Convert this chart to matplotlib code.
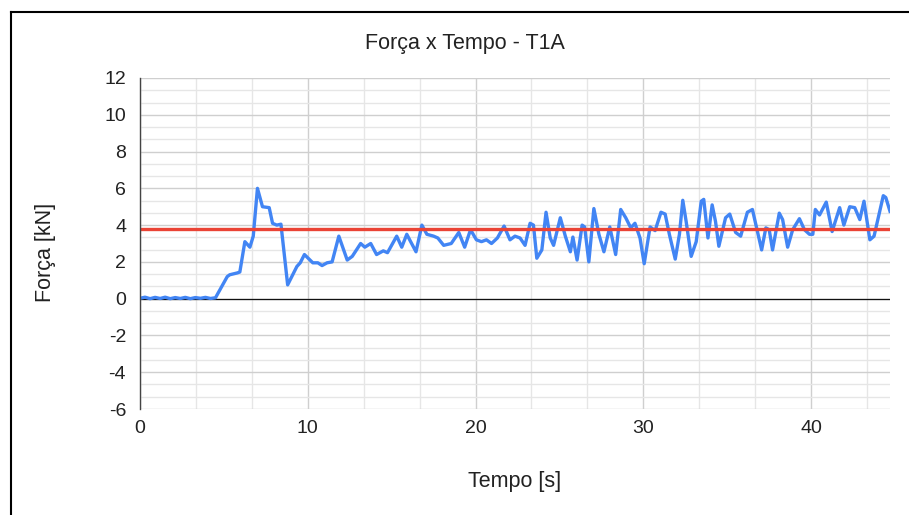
import numpy as np
import matplotlib
matplotlib.use("Agg")
import matplotlib.pyplot as plt
from matplotlib.lines import Line2D
from matplotlib.ticker import MultipleLocator

plt.rcParams["font.family"] = ["Liberation Sans", "DejaVu Sans"]
plt.rcParams["axes.unicode_minus"] = False

# DATA
tempo = [0.0, 0.3, 0.6, 0.9, 1.2, 1.5, 1.8, 2.1, 2.4, 2.7, 3.0, 3.3, 3.6, 3.9, 4.2, 4.5,
         5.2, 5.35, 5.8, 5.95, 6.25, 6.55, 6.75, 7.0, 7.3, 7.7, 7.9, 8.15, 8.4, 8.8,
         9.35, 9.55, 9.8, 10.3, 10.6, 10.85, 11.15, 11.45, 11.85, 12.35, 12.65, 13.15,
         13.4, 13.75, 14.1, 14.5, 14.75, 15.3, 15.6, 15.9, 16.45, 16.8, 17.1, 17.5,
         17.75, 18.1, 18.55, 19.0, 19.35, 19.7, 20.05, 20.35, 20.65, 20.95, 21.3, 21.7,
         22.05, 22.35, 22.65, 22.95, 23.25, 23.45, 23.65, 23.95, 24.2, 24.45, 24.65,
         25.05, 25.35, 25.65, 25.8, 26.05, 26.35, 26.5, 26.75, 27.05, 27.35, 27.65,
         28.0, 28.35, 28.65, 28.95, 29.25, 29.5, 29.8, 30.05, 30.4, 30.7, 31.05, 31.3,
         31.55, 31.9, 32.15, 32.35, 32.55, 32.85, 33.15, 33.45, 33.6, 33.85, 34.1, 34.3,
         34.5, 34.9, 35.15, 35.5, 35.8, 36.2, 36.5, 37.05, 37.3, 37.5, 37.7, 38.1, 38.3,
         38.6, 38.9, 39.3, 39.6, 39.9, 40.1, 40.25, 40.5, 40.9, 41.25, 41.7, 41.95, 42.3,
         42.6, 42.9, 43.15, 43.5, 43.75, 44.3, 44.45, 44.7]
forca = [0.02, 0.08, 0.0, 0.07, 0.01, 0.08, 0.0, 0.06, 0.01, 0.07, 0.0, 0.06, 0.02, 0.07, 0.01, 0.05,
         1.2, 1.3, 1.4, 1.45, 3.1, 2.8, 3.4, 6.0, 5.0, 4.95, 4.1, 4.0, 4.05, 0.75,
         1.75, 1.95, 2.4, 1.95, 1.95, 1.8, 1.95, 2.0, 3.4, 2.1, 2.3, 3.0,
         2.8, 3.0, 2.4, 2.6, 2.5, 3.4, 2.8, 3.5, 2.55, 4.0, 3.5, 3.4,
         3.3, 2.9, 3.0, 3.6, 2.8, 3.75, 3.2, 3.1, 3.2, 3.0, 3.3, 3.95,
         3.2, 3.4, 3.3, 2.9, 4.1, 4.0, 2.2, 2.65, 4.7, 3.3, 2.9,
         4.4, 3.4, 2.55, 3.35, 2.1, 4.0, 3.9, 2.0, 4.9, 3.5, 2.55,
         3.9, 2.4, 4.85, 4.4, 3.85, 4.1, 3.3, 1.9, 3.9, 3.7, 4.7, 4.6,
         3.5, 2.15, 3.5, 5.35, 4.2, 2.3, 3.1, 5.3, 5.4, 3.3, 5.1, 4.2,
         2.85, 4.4, 4.6, 3.6, 3.4, 4.7, 4.85, 2.65, 3.85, 3.75, 2.65, 4.65, 4.3,
         2.8, 3.75, 4.35, 3.75, 3.5, 3.5, 4.85, 4.55, 5.25, 3.65, 4.95, 4.0, 5.0,
         4.95, 4.3, 5.3, 3.2, 3.4, 5.6, 5.5, 4.75]
forca_media = 3.8

x_ticks = [0, 10, 20, 30, 40]
y_ticks = [-6, -4, -2, 0, 2, 4, 6, 8, 10, 12]

# FIGURE
fig = plt.figure(figsize=(9.09, 5.15), dpi=100)
ax = fig.add_axes([140 / 909, 1 - 409 / 515, 750 / 909, 331 / 515])

ax.plot(tempo, forca, color="#4285F4", lw=2.4, solid_joinstyle="round", zorder=4)
ax.axhline(forca_media, color="#EA4335", lw=2.4, zorder=5)
ax.axhline(0, color="#111111", lw=0.9, zorder=3)

ax.set_xlim(0, 44.7)
ax.set_ylim(-6, 12)
ax.set_xticks(x_ticks)
ax.set_yticks(y_ticks)
ax.xaxis.set_minor_locator(MultipleLocator(10 / 3))
ax.yaxis.set_minor_locator(MultipleLocator(2 / 3))
ax.grid(which="major", color="#cfcfcf", lw=1.0, zorder=0)
ax.grid(which="minor", color="#e6e6e6", lw=1.0, zorder=0)
ax.tick_params(which="both", length=0)
ax.tick_params(axis="y", pad=10, labelsize=14, labelcolor="#222222")
ax.tick_params(axis="x", pad=8, labelsize=14, labelcolor="#222222")

for side in ["top", "right", "bottom"]:
    ax.spines[side].set_visible(False)
ax.spines["left"].set_color("#444444")
ax.spines["left"].set_linewidth(1.0)
ax.spines["left"].set_zorder(6)

# Titles and labels
fig.text(465 / 909, 1 - 43 / 515, "Força x Tempo - T1A", ha="center", va="center",
         fontsize=15.5, color="#222222")
fig.text(515 / 909, 1 - 481 / 515, "Tempo [s]", ha="center", va="center",
         fontsize=15.5, color="#222222")
fig.text(45 / 909, 1 - 252 / 515, "Força [kN]", ha="center", va="center",
         rotation=90, fontsize=15.5, color="#222222")

# Outer frame (left and top edges)
fig.add_artist(Line2D([11 / 909, 11 / 909], [0, 1 - 12 / 515], color="black", lw=1.5,
                      transform=fig.transFigure))
fig.add_artist(Line2D([11 / 909, 1], [1 - 12 / 515, 1 - 12 / 515], color="black", lw=1.5,
                      transform=fig.transFigure))

fig.savefig("out.png", dpi=100, facecolor="white")
